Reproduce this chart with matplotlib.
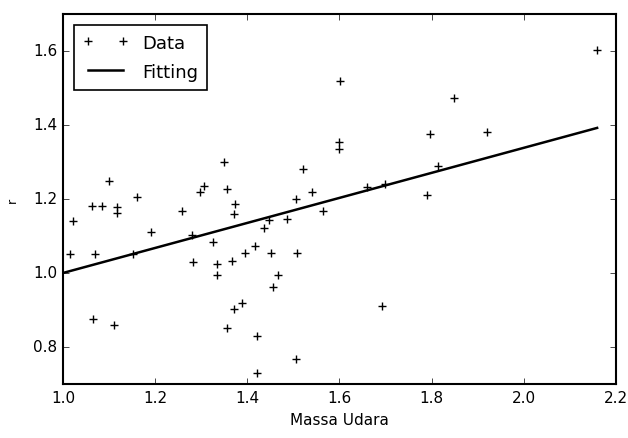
import matplotlib
matplotlib.use("Agg")
import matplotlib.pyplot as plt
import numpy as np

plt.style.use('classic')

# Data points (Massa Udara, r)
x_data = [1.015, 1.022, 1.063, 1.066, 1.070, 1.085, 1.100, 1.110, 1.117, 1.117,
          1.152, 1.161, 1.190, 1.259, 1.280, 1.283, 1.298, 1.305, 1.326, 1.335,
          1.335, 1.350, 1.355, 1.356, 1.367, 1.370, 1.370, 1.374, 1.389, 1.394,
          1.417, 1.420, 1.420, 1.437, 1.446, 1.452, 1.456, 1.467, 1.487, 1.506,
          1.506, 1.508, 1.520, 1.540, 1.565, 1.598, 1.598, 1.602, 1.659, 1.693,
          1.698, 1.789, 1.796, 1.813, 1.848, 1.920, 2.159]
y_data = [1.052, 1.140, 1.182, 0.875, 1.052, 1.180, 1.248, 0.859, 1.178, 1.162,
          1.050, 1.205, 1.111, 1.167, 1.103, 1.030, 1.220, 1.235, 1.085, 1.025,
          0.995, 1.300, 1.227, 0.850, 1.033, 1.160, 0.904, 1.187, 0.920, 1.055,
          1.074, 0.829, 0.730, 1.122, 1.144, 1.055, 0.963, 0.995, 1.146, 1.200,
          0.767, 1.055, 1.280, 1.220, 1.168, 1.355, 1.336, 1.520, 1.232, 0.912,
          1.240, 1.210, 1.375, 1.289, 1.472, 1.380, 1.603]

# Fitted line endpoints
x_fit = [1.0, 2.159]
y_fit = [1.0, 1.392]

fig = plt.figure(figsize=(6.28, 4.39), dpi=100, facecolor='white')
ax = fig.add_axes([0.1003, 0.123, 0.8806, 0.843])

ax.plot(x_data, y_data, '+', color='black', markersize=6, markeredgewidth=1.0,
        label='Data')
ax.plot(x_fit, y_fit, '-', color='black', linewidth=1.8, label='Fitting')

ax.set_xlim(1.0, 2.2)
ax.set_ylim(0.7, 1.7)
ax.set_xticks([1.0, 1.2, 1.4, 1.6, 1.8, 2.0, 2.2])
ax.set_yticks([0.8, 1.0, 1.2, 1.4, 1.6])
ax.tick_params(labelsize=11)
for s in ax.spines.values():
    s.set_linewidth(1.5)

ax.set_xlabel('Massa Udara', fontsize=11)
ax.set_ylabel('r', fontsize=9, labelpad=10)

leg = ax.legend(loc='upper left', numpoints=2, fontsize=13, fancybox=False,
                borderaxespad=0.6, handlelength=2.5, labelspacing=0.6,
                borderpad=0.5)
leg.get_frame().set_edgecolor('black')
leg.get_frame().set_linewidth(1.2)

fig.savefig('out.png', dpi=100, facecolor='white')
